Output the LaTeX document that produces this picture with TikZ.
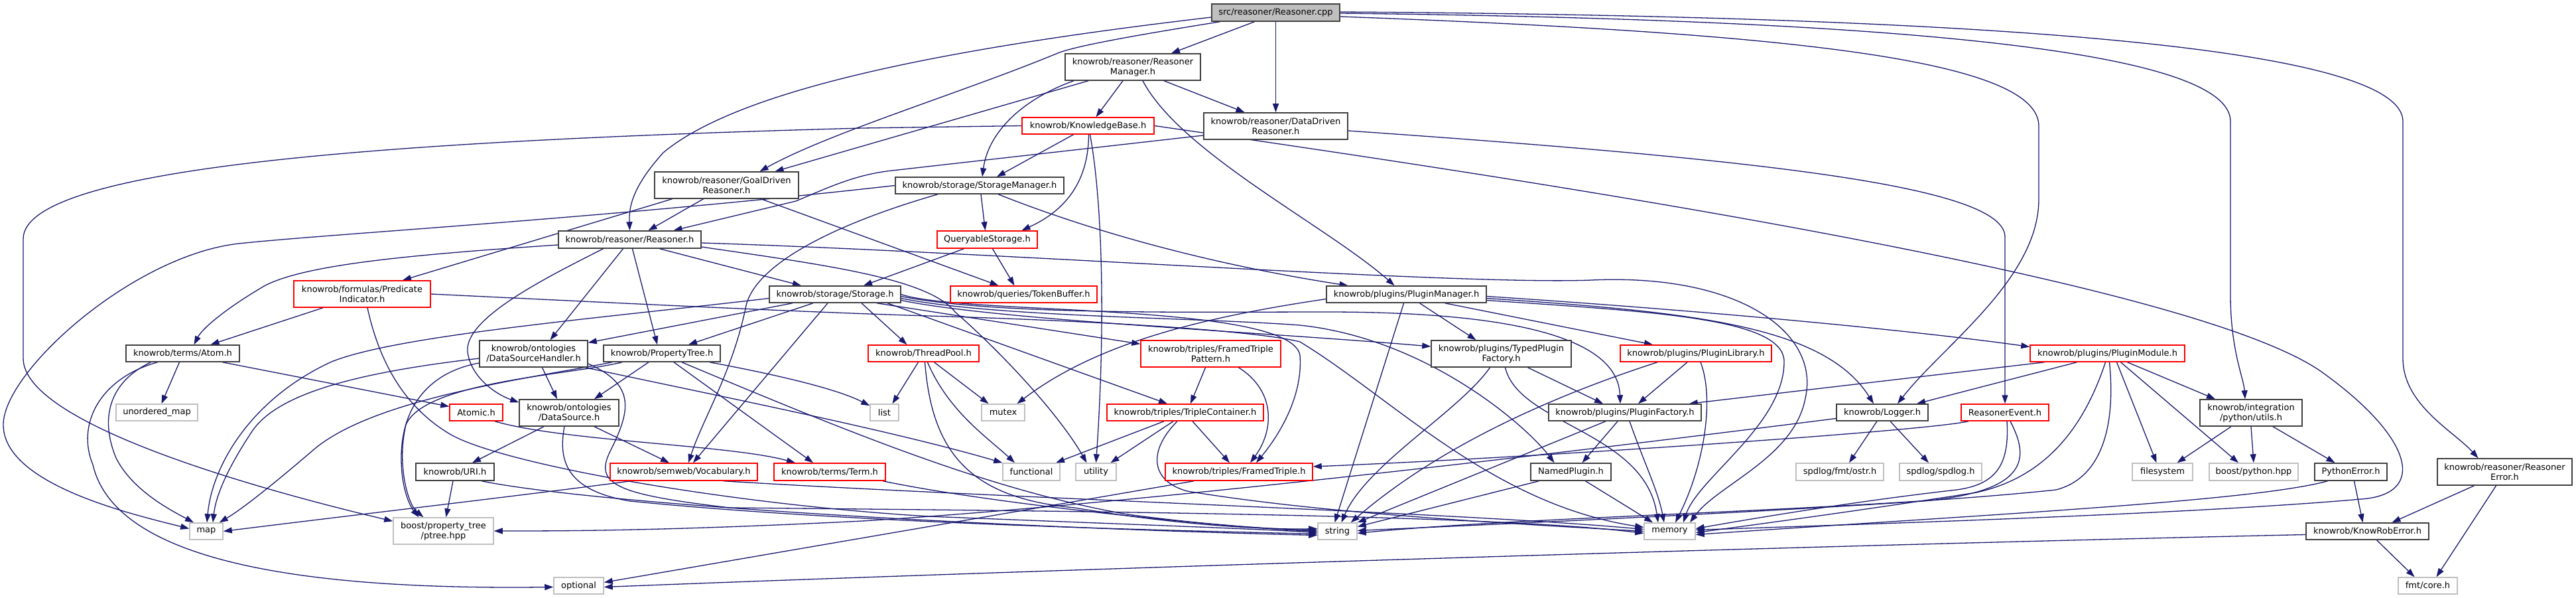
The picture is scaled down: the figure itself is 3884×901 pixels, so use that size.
\documentclass[tikz,border=0pt]{standalone}
\usepackage{fontspec}
\setmainfont{DejaVu Sans}
\usetikzlibrary{arrows.meta}
\definecolor{edgec}{HTML}{191970}
\definecolor{bdark}{HTML}{404040}
\definecolor{bgray}{HTML}{BFBFBF}
\pgfdeclarelayer{bg}
\pgfsetlayers{bg,main}
\tikzset{
  box/.style={rectangle, draw=bdark, fill=white, line width=1.5pt, inner sep=0pt, align=center, font=\fontsize{13}{15}\selectfont},
  rbox/.style={box, draw=red},
  gbox/.style={box, draw=bgray},
  sz/.style 2 args={minimum width=#1pt, minimum height=#2pt},
  e/.style={draw=edgec, line width=1.3pt, -{Triangle[length=13pt,width=9pt]}},
}
\begin{document}
\begin{tikzpicture}[x=1pt,y=-1pt]
\useasboundingbox (0,0) rectangle (3884,901);
% ---------------- nodes ----------------
\node[box, fill=bgray, sz={193}{26}] (cpp) at (1923.5,19) {src/reasoner/Reasoner.cpp};
\node[box, sz={204}{40}] (rm) at (1708,101) {knowrob/reasoner/Reasoner\\Manager.h};
\node[rbox, sz={199}{25}] (kb) at (1640.5,189.5) {knowrob/KnowledgeBase.h};
\node[box, sz={217}{40}] (ddr) at (1923.5,190) {knowrob/reasoner/DataDriven\\Reasoner.h};
\node[box, sz={217}{40}] (gdr) at (1095.5,279) {knowrob/reasoner/GoalDriven\\Reasoner.h};
\node[box, sz={254}{25}] (sm) at (1477,279.5) {knowrob/storage/StorageManager.h};
\node[box, sz={215}{26}] (rh) at (949.5,361) {knowrob/reasoner/Reasoner.h};
\node[rbox, sz={151}{26}] (qs) at (1488.5,361) {QueryableStorage.h};
\node[rbox, sz={206}{40}] (pi) at (546,443) {knowrob/formulas/Predicate\\Indicator.h};
\node[box, sz={198}{25}] (st) at (1259,443.5) {knowrob/storage/Storage.h};
\node[rbox, sz={221}{25}] (tb) at (1543.5,443.5) {knowrob/queries/TokenBuffer.h};
\node[box, sz={241}{25}] (pm) at (2120.5,443.5) {knowrob/plugins/PluginManager.h};
\node[box, sz={171}{25}] (atom) at (275.5,532.5) {knowrob/terms/Atom.h};
\node[box, sz={163}{40}] (dsh) at (804.5,533) {knowrob/ontologies\\/DataSourceHandler.h};
\node[box, sz={176}{25}] (pt) at (998,532.5) {knowrob/PropertyTree.h};
\node[rbox, sz={167}{25}] (tp) at (1392.5,532.5) {knowrob/ThreadPool.h};
\node[rbox, sz={211}{40}] (ftp) at (1825.5,533) {knowrob/triples/FramedTriple\\Pattern.h};
\node[box, sz={211}{40}] (tpf) at (2263.5,533) {knowrob/plugins/TypedPlugin\\Factory.h};
\node[rbox, sz={228}{25}] (pl) at (2557,532.5) {knowrob/plugins/PluginLibrary.h};
\node[rbox, sz={233}{25}] (pmod) at (3177.5,532.5) {knowrob/plugins/PluginModule.h};
\node[gbox, sz={123}{25}] (umap) at (236.5,621.5) {unordered\_map};
\node[rbox, sz={80}{25}] (atomic) at (718,621.5) {Atomic.h};
\node[box, sz={150}{40}] (ds) at (858,622) {knowrob/ontologies\\/DataSource.h};
\node[gbox, sz={43}{25}] (list) at (1333.5,621.5) {list};
\node[gbox, sz={65}{25}] (mutex) at (1512.5,621.5) {mutex};
\node[rbox, sz={236}{25}] (tc) at (1787,621.5) {knowrob/triples/TripleContainer.h};
\node[box, sz={230}{25}] (pf) at (2450,621.5) {knowrob/plugins/PluginFactory.h};
\node[box, sz={138}{25}] (log) at (2838,621.5) {knowrob/Logger.h};
\node[rbox, sz={132}{25}] (rev) at (3023,621.5) {ReasonerEvent.h};
\node[box, sz={154}{40}] (pyu) at (3394,622) {knowrob/integration\\/python/utils.h};
\node[box, sz={118}{26}] (uri) at (686,711) {knowrob/URI.h};
\node[rbox, sz={222}{26}] (voc) at (1031,711) {knowrob/semweb/Vocabulary.h};
\node[rbox, sz={168}{26}] (term) at (1251,711) {knowrob/terms/Term.h};
\node[gbox, sz={86}{26}] (func) at (1555,711) {functional};
\node[gbox, sz={61}{26}] (util) at (1652.5,711) {utility};
\node[rbox, sz={222}{26}] (ft) at (1868,711) {knowrob/triples/FramedTriple.h};
\node[box, sz={121}{26}] (np) at (2368.5,711) {NamedPlugin.h};
\node[gbox, sz={132}{26}] (ostr) at (2774,711) {spdlog/fmt/ostr.h};
\node[gbox, sz={124}{26}] (spd) at (2926,711) {spdlog/spdlog.h};
\node[gbox, sz={91}{26}] (fs) at (3260.5,711) {filesystem};
\node[gbox, sz={134}{26}] (bpy) at (3398,711) {boost/python.hpp};
\node[box, sz={109}{26}] (pyerr) at (3544.5,711) {PythonError.h};
\node[box, sz={203}{40}] (rerr) at (3776.5,711) {knowrob/reasoner/Reasoner\\Error.h};
\node[gbox, sz={50}{25}] (map) at (311,800.5) {map};
\node[gbox, sz={151}{40}] (ptree) at (668.5,800) {boost/property\_tree\\/ptree.hpp};
\node[gbox, sz={59}{25}] (string) at (2016.5,800.5) {string};
\node[gbox, sz={77}{25}] (memory) at (2517.5,800.5) {memory};
\node[box, sz={185}{25}] (kre) at (3569.5,800.5) {knowrob/KnowRobError.h};
\node[gbox, sz={75}{25}] (optional) at (872.5,882.5) {optional};
\node[gbox, sz={89}{25}] (fmt) at (3660.5,882.5) {fmt/core.h};
% ---------------- edges ----------------
\begin{pgfonlayer}{bg}
\fill[white] (0,0) rectangle (3884,901);
% Reasoner.cpp
\draw[e] ([xshift=-32pt]cpp.south) -- ([xshift=58pt]rm.north);
\draw[e] (cpp.south) -- (ddr.north);
\draw[e] ([xshift=-84pt]cpp.south) .. controls (1700,55) and (1620,70) .. (1595,80) .. controls (1450,140) and (1250,200) .. ([xshift=50pt]gdr.north);
\draw[e] ([yshift=-7pt]cpp.west) .. controls (1450,70) and (1120,130) .. (1000,230) .. controls (955,280) and (948,310) .. (rh.north);
\draw[e] ([yshift=-6pt]cpp.east) .. controls (2700,50) and (3074,90) .. (3074,190) -- (3074,300) .. controls (3074,420) and (2930,520) .. ([xshift=23pt]log.north);
\draw[e] ([yshift=-1pt]cpp.east) .. controls (2900,30) and (3363,80) .. (3363,183) -- (3363,450) .. controls (3364,530) and (3383,570) .. ([xshift=-9pt]pyu.north);
\draw[e] ([yshift=1pt]cpp.east) .. controls (3100,25) and (3623,80) .. (3623,183) -- (3623,540) .. controls (3623,610) and (3700,650) .. ([xshift=-40pt]rerr.north);
% ReasonerManager
\draw[e] ([xshift=-15pt]rm.south) -- ([xshift=12pt]kb.north);
\draw[e] ([xshift=47pt]rm.south) -- ([xshift=-47pt]ddr.north);
\draw[e] ([xshift=-67pt]rm.south) -- ([xshift=73pt]gdr.north);
\draw[e] ([xshift=-89pt]rm.south) .. controls (1540,150) and (1490,200) .. ([xshift=4pt]sm.north);
\draw[e] ([xshift=15pt]rm.south) .. controls (1780,230) and (2000,340) .. ([xshift=-18pt]pm.north);
% KnowledgeBase
\draw[e] ([xshift=-22pt]kb.south) -- ([xshift=26pt]sm.north);
\draw[e] ([xshift=1pt]kb.south) .. controls (1641,280) and (1600,320) .. ([xshift=52pt]qs.north);
\draw[e] ([xshift=3pt]kb.south) .. controls (1665,320) and (1665,520) .. (util.north);
\draw[e] (kb.west) -- (1300,193) .. controls (600,212) and (35,250) .. (35,360) -- (35,540) .. controls (35,640) and (400,740) .. ([yshift=-6pt]ptree.north west);
\draw[e] (kb.east) .. controls (2300,270) and (3300,420) .. (3500,560) .. controls (3640,660) and (3660,745) .. (3560,752) .. controls (3300,775) and (2800,790) .. ([yshift=2pt]memory.east);
% DataDriven / GoalDriven
\draw[e] ([yshift=-14pt]ddr.west) -- (1345,257) .. controls (1290,263) and (1250,282) .. (1200,303) -- ([xshift=66pt]rh.north);
\draw[e] ([yshift=-7pt]ddr.east) .. controls (2650,240) and (3023,280) .. (3023,357) -- (rev.north);
\draw[e] ([xshift=-35pt]gdr.south) -- ([xshift=28pt]rh.north);
\draw[e] ([xshift=-82pt]gdr.south) -- ([xshift=61pt]pi.north);
\draw[e] ([xshift=52pt]gdr.south) -- ([xshift=-38pt]tb.north);
% StorageManager
\draw[e] ([xshift=2pt]sm.south) -- ([xshift=-3pt]qs.north);
\draw[e] ([xshift=28pt]sm.south) .. controls (1700,370) and (1900,410) .. ([xshift=-88pt]pm.north);
\draw[e] (sm.west) .. controls (900,330) and (500,352) .. (360,367) .. controls (200,385) and (5,560) .. (5,640) .. controls (5,730) and (200,775) .. ([yshift=4pt]map.west);
\draw[e] ([xshift=-63pt]sm.south) .. controls (1250,340) and (1140,400) .. (1125,460) .. controls (1105,560) and (1060,630) .. ([xshift=7pt]voc.north);
% QueryableStorage
\draw[e] ([xshift=8pt]qs.south) -- ([xshift=-14pt]tb.north);
\draw[e] ([xshift=-35pt]qs.south) -- ([xshift=43pt]st.north);
% Reasoner.h
\draw[e] ([xshift=45pt]rh.south) -- ([xshift=-51pt]st.north);
\draw[e] ([yshift=-8pt]rh.west) .. controls (600,385) and (460,400) .. (400,430) .. controls (340,465) and (305,495) .. ([xshift=17pt]atom.north);
\draw[e] ([xshift=-40pt]rh.south) .. controls (820,420) and (700,480) .. (705,530) .. controls (710,570) and (750,595) .. ([yshift=-5pt]ds.north west);
\draw[e] ([xshift=-10pt]rh.south) -- ([xshift=25pt]dsh.north);
\draw[e] ([xshift=4pt]rh.south) -- ([xshift=-7pt]pt.north);
\draw[e] ([yshift=-11pt]rh.east) .. controls (1250,400) and (1400,420) .. (1440,470) .. controls (1520,540) and (1600,630) .. ([xshift=-14pt]util.north);
\draw[e] ([yshift=-5pt]rh.east) .. controls (1500,380) and (2200,430) .. (2400,422) .. controls (2620,412) and (2745,500) .. (2722,600) .. controls (2705,690) and (2590,730) .. ([xshift=30.5pt]memory.north);
% PredicateIndicator
\draw[e] ([xshift=-59pt]pi.south) -- ([xshift=42pt]atom.north);
\draw[e] ([xshift=8pt]pi.south) .. controls (575,560) and (620,620) .. (680,655) .. controls (760,700) and (1100,760) .. (1400,778) .. controls (1700,790) and (1900,797) .. ([yshift=-2pt]string.west);
\draw[e] (pi.east) .. controls (900,455) and (1200,470) .. (1400,476) .. controls (1700,485) and (1900,500) .. (1960,515) .. controls (2100,600) and (2250,760) .. ([yshift=6pt]memory.west);
% Storage.h
\draw[e] ([xshift=-64pt]st.south) -- ([yshift=-4pt]dsh.north east);
\draw[e] ([xshift=-33pt]st.south) -- ([xshift=40pt]pt.north);
\draw[e] ([xshift=-11pt]st.south) -- ([xshift=14pt]voc.north);
\draw[e] ([yshift=-6pt]st.west) .. controls (900,480) and (600,505) .. (500,545) .. controls (380,600) and (320,700) .. ([xshift=1pt]map.north);
\draw[e] ([xshift=40pt]st.south) -- ([xshift=-25pt]tp.north);
\draw[e] ([xshift=63pt]st.south) -- ([yshift=-6pt]ftp.north west);
\draw[e] ([xshift=79pt]st.south) -- ([xshift=-27pt]tc.north);
\draw[e] (st.east) .. controls (1450,475) and (1945,455) .. (1960,535) .. controls (1965,600) and (1925,660) .. ([xshift=26pt]ft.north);
\draw[e] ([yshift=-3pt]st.east) .. controls (1500,475) and (1800,470) .. (2000,470) .. controls (2350,470) and (2440,530) .. ([xshift=-7pt]pf.north);
\draw[e] ([yshift=-6pt]st.east) .. controls (1500,478) and (1800,478) .. (1960,490) .. controls (2150,510) and (2300,640) .. ([xshift=-25pt]np.north);
\draw[e] ([yshift=-9pt]st.east) .. controls (1500,482) and (1900,500) .. ([yshift=11pt]tpf.west);
% DataSourceHandler
\draw[e] ([xshift=13pt]dsh.south) -- ([xshift=-18pt]ds.north);
\draw[e] ([yshift=-7pt]dsh.west) .. controls (550,560) and (420,590) .. (380,650) .. controls (340,710) and (325,750) .. ([xshift=10pt]map.north);
\draw[e] ([yshift=-14pt]dsh.west) .. controls (650,560) and (605,610) .. (605,690) .. controls (605,740) and (620,765) .. ([xshift=-37pt]ptree.north);
\draw[e] ([xshift=78pt]dsh.south) .. controls (1100,600) and (1350,650) .. (func.north west);
\draw[e] ([yshift=-15pt]dsh.east) .. controls (960,580) and (950,620) .. (920,680) .. controls (895,730) and (930,745) .. (1100,765) .. controls (1600,770) and (2250,775) .. ([yshift=-3pt]memory.west);
% PropertyTree
\draw[e] ([xshift=-60pt]pt.south) .. controls (860,565) and (640,575) .. (612,640) .. controls (598,700) and (615,760) .. ([xshift=-30pt]ptree.north);
\draw[e] ([xshift=-75pt]pt.south) .. controls (800,570) and (560,600) .. (470,680) .. controls (400,740) and (360,770) .. ([xshift=-6pt]map.north east);
\draw[e] ([xshift=-20pt]pt.south) -- ([xshift=38pt]ds.north);
\draw[e] ([xshift=18pt]pt.south) -- ([xshift=-25pt]term.north);
\draw[e] ([xshift=72pt]pt.south) .. controls (1200,570) and (1270,590) .. ([yshift=-3pt]list.north west);
\draw[e] ([xshift=30pt]pt.south) .. controls (1300,660) and (1500,740) .. (1700,775) .. controls (1850,795) and (1950,798) .. ([yshift=2pt]string.west);
% DataSource
\draw[e] ([xshift=-38pt]ds.south) -- ([xshift=26pt]uri.north);
\draw[e] ([xshift=38pt]ds.south) -- ([xshift=-22pt]voc.north);
\draw[e] ([xshift=-7pt]ds.south) .. controls (840,700) and (860,740) .. (950,755) .. controls (1300,790) and (1800,800) .. ([yshift=-4pt]string.west);
% URI / Vocabulary / Term
\draw[e] ([xshift=-3pt]uri.south) -- ([xshift=4pt]ptree.north);
\draw[e] ([xshift=40pt]uri.south) .. controls (900,760) and (1500,795) .. ([yshift=-6pt]string.west);
\draw[e] ([xshift=-80pt]voc.south) .. controls (800,745) and (500,780) .. (map.east);
\draw[e] ([xshift=60pt]voc.south) .. controls (1500,750) and (2200,772) .. ([yshift=3pt]memory.west);
\draw[e] ([xshift=80pt]term.south) .. controls (1500,760) and (1850,795) .. (string.west);
% Atom
\draw[e] ([xshift=-5pt]atom.south) -- ([xshift=7pt]umap.north);
\draw[e] ([xshift=60pt]atom.south) -- ([yshift=9pt]atomic.west);
\draw[e] ([xshift=-48pt]atom.south) .. controls (165,575) and (150,630) .. (175,690) .. controls (200,740) and (260,770) .. ([xshift=-19pt]map.north);
\draw[e] ([xshift=-38pt]atom.south) .. controls (150,570) and (115,640) .. (140,700) .. controls (170,830) and (400,890) .. ([yshift=-2pt]optional.west);
\draw[e] ([xshift=28pt]atomic.south) .. controls (850,665) and (1100,670) .. ([xshift=-52pt]term.north);
% ThreadPool
\draw[e] ([xshift=-8pt]tp.south) -- ([xshift=12pt]list.north);
\draw[e] ([xshift=16pt]tp.south) -- ([xshift=-22pt]mutex.north);
\draw[e] ([xshift=6pt]tp.south) .. controls (1430,620) and (1490,660) .. ([xshift=-25pt]func.north);
\draw[e] ([xshift=2pt]tp.south) .. controls (1405,680) and (1460,750) .. (1620,765) .. controls (1800,795) and (1930,798) .. ([yshift=4pt]string.west);
% FramedTriplePattern / TripleContainer / FramedTriple
\draw[e] ([xshift=-8pt]ftp.south) -- ([xshift=8pt]tc.north);
\draw[e] ([xshift=42pt]ftp.south) .. controls (1925,590) and (1920,650) .. ([xshift=17pt]ft.north);
\draw[e] ([xshift=11pt]tc.south) -- ([xshift=-14pt]ft.north);
\draw[e] ([xshift=-18pt]tc.south) -- ([xshift=22pt]util.north);
\draw[e] ([xshift=-32pt]tc.south) -- ([xshift=37pt]func.north);
\draw[e] ([xshift=-12pt]tc.south) .. controls (1730,680) and (1735,725) .. (1790,740) .. controls (2000,775) and (2300,790) .. (memory.west);
\draw[e] ([xshift=-68pt]ft.south) -- ([yshift=5pt]optional.east);
% PluginManager
\draw[e] ([xshift=-4pt]pm.south) -- ([xshift=-4pt]string.north);
\draw[e] ([xshift=20pt]pm.south) -- ([xshift=-38pt]tpf.north);
\draw[e] ([xshift=58pt]pm.south) -- ([xshift=-65pt]pl.north);
\draw[e] ([yshift=-3pt]pm.east) .. controls (2600,470) and (2900,500) .. ([yshift=10pt]pmod.west);
\draw[e] ([yshift=-6pt]pm.east) .. controls (2550,470) and (2750,490) .. ([xshift=-13pt]log.north);
\draw[e] ([yshift=-9pt]pm.east) .. controls (2500,470) and (2690,480) .. (2690,545) .. controls (2690,640) and (2560,720) .. ([xshift=20.5pt]memory.north);
\draw[e] ([yshift=-7pt]pm.west) .. controls (1800,480) and (1650,520) .. ([xshift=21pt]mutex.north);
% TypedPluginFactory / PluginLibrary / PluginFactory / NamedPlugin
\draw[e] ([xshift=40pt]tpf.south) -- ([xshift=-33pt]pf.north);
\draw[e] ([xshift=-17pt]tpf.south) .. controls (2200,620) and (2060,700) .. ([xshift=6pt]string.north);
\draw[e] ([xshift=6pt]tpf.south) .. controls (2290,640) and (2480,650) .. ([xshift=-17.5pt]memory.north);
\draw[e] ([xshift=-13pt]pl.south) -- ([xshift=20pt]pf.north);
\draw[e] ([xshift=7pt]pl.south) .. controls (2585,600) and (2570,700) .. ([xshift=8.5pt]memory.north);
\draw[e] ([xshift=-58pt]pl.south) .. controls (2300,610) and (2150,690) .. ([xshift=-10pt]string.north east);
\draw[e] ([xshift=-11pt]pf.south) -- ([xshift=17pt]np.north);
\draw[e] ([xshift=7pt]pf.south) .. controls (2480,700) and (2500,740) .. ([xshift=-8.5pt]memory.north);
\draw[e] ([xshift=-29pt]pf.south) -- (string.north east);
\draw[e] ([xshift=-48pt]np.south) -- ([yshift=7pt]string.east);
\draw[e] ([xshift=22pt]np.south) -- ([xshift=-25.5pt]memory.north);
% PluginModule
\draw[e] ([xshift=-95pt]pmod.south) -- ([xshift=-19pt]pf.north east);
\draw[e] ([xshift=-46pt]pmod.south) -- ([xshift=52pt]log.north);
\draw[e] ([xshift=14pt]pmod.south) -- ([xshift=-9pt]fs.north);
\draw[e] ([xshift=20pt]pmod.south) -- ([xshift=-23pt]bpy.north);
\draw[e] ([xshift=30pt]pmod.south) -- ([xshift=-54pt]pyu.north);
\draw[e] ([xshift=-3pt]pmod.south) .. controls (3140,650) and (3080,720) .. (2980,742) .. controls (2800,770) and (2650,790) .. ([yshift=-2pt]memory.east);
\draw[e] ([xshift=3pt]pmod.south) .. controls (3190,640) and (3170,720) .. (3100,738) .. controls (2800,770) and (2300,778) .. ([yshift=-3pt]string.east);
% Logger / ReasonerEvent
\draw[e] ([xshift=-8pt]log.south) -- ([xshift=14pt]ostr.north);
\draw[e] ([xshift=12pt]log.south) -- ([xshift=-18pt]spd.north);
\draw[e] ([yshift=-9pt]log.west) .. controls (2300,690) and (1700,760) .. (1300,785) .. controls (1000,800) and (850,800) .. (ptree.east);
\draw[e] ([xshift=-55pt]rev.south) .. controls (2900,650) and (2300,690) .. ([yshift=8pt]ft.east);
\draw[e] ([xshift=3pt]rev.south) .. controls (3030,700) and (3010,730) .. (2950,738) .. controls (2800,755) and (2650,780) .. ([yshift=4pt]memory.east);
\draw[e] ([xshift=8pt]rev.south) .. controls (3060,690) and (3060,740) .. (2900,755) .. controls (2600,775) and (2250,790) .. ([yshift=1pt]string.east);
% python utils / errors
\draw[e] ([xshift=-30pt]pyu.south) -- ([xshift=22pt]fs.north);
\draw[e] (pyu.south) -- (bpy.north);
\draw[e] ([xshift=33pt]pyu.south) -- ([xshift=-24pt]pyerr.north);
\draw[e] ([xshift=5pt]pyerr.south) -- ([xshift=-7pt]kre.north);
\draw[e] ([xshift=-35pt]pyerr.south) .. controls (3400,755) and (3000,775) .. ([yshift=-5pt]memory.east);
\draw[e] ([xshift=-46pt]rerr.south) -- ([xshift=37pt]kre.north);
\draw[e] ([xshift=-13pt]rerr.south) -- ([xshift=13pt]fmt.north);
\draw[e] ([xshift=14pt]kre.south) -- ([xshift=-20pt]fmt.north);
\draw[e] ([yshift=-5pt]kre.west) .. controls (2600,825) and (1400,865) .. ([yshift=-2pt]optional.east);
\end{pgfonlayer}
\end{tikzpicture}
\end{document}
